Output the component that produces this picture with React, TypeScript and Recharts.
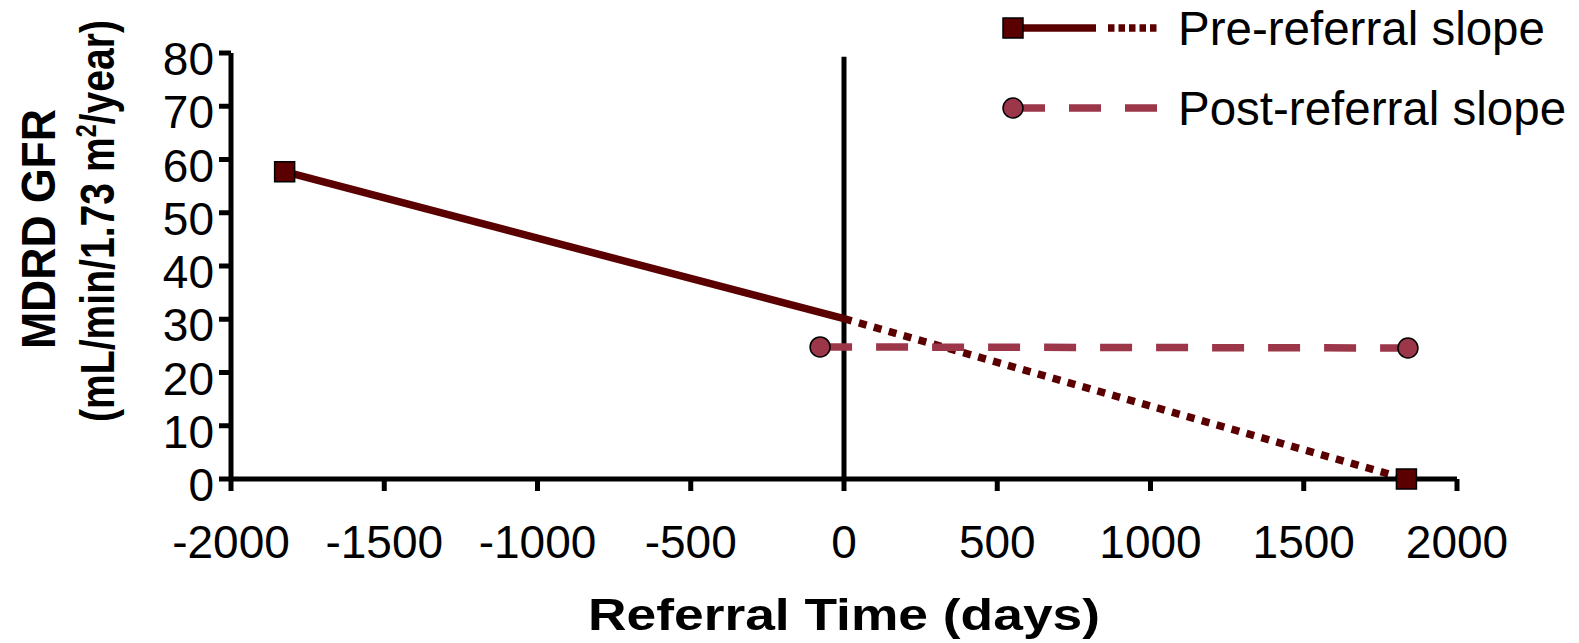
import { LineChart, Line, XAxis, YAxis, ReferenceLine, Legend } from "recharts";

// GFR slope endpoints (days relative to referral, mL/min/1.73 m²)
const preBefore = [
  { days: -1825, gfr: 57.7 },
  { days: 0, gfr: 30.1 },
];
const preAfter = [
  { days: 0, gfr: 30.1 },
  { days: 1835, gfr: 0 },
];
const postSlope = [
  { days: -78, gfr: 24.8 },
  { days: 1840, gfr: 24.6 },
];

const xTicks = [-2000, -1500, -1000, -500, 0, 500, 1000, 1500, 2000];
const yTicks = [0, 10, 20, 30, 40, 50, 60, 70, 80];
const seriesNames = ["Pre-referral slope", "Post-referral slope"];

const PRE = "#5a0000";
const POST = "#9c3649";
const FONT = "'Liberation Sans', Arial, Helvetica, sans-serif";

function Square({ cx, cy }: { cx: number; cy: number }) {
  return <rect x={cx - 10} y={cy - 10} width={20} height={20} fill={PRE} stroke="#000" strokeWidth={1.5} strokeDasharray="none" />;
}

function Dot({ cx, cy }: { cx: number; cy: number }) {
  return <circle cx={cx} cy={cy} r={10} fill={POST} stroke="#000" strokeWidth={1.5} strokeDasharray="none" />;
}

// squares only sit on the outer ends of the pre-referral line
const squareAt = (which: number) => (p: any) =>
  p.index === which ? <Square key={p.key ?? p.index} cx={p.cx} cy={p.cy} /> : <g key={p.key ?? p.index} />;

const circleDot = (p: any) => <Dot key={p.key ?? p.index} cx={p.cx} cy={p.cy} />;

function YTick({ x, y, payload }: any) {
  return (
    <text x={x} y={y + 22} textAnchor="end" fontSize={46} fontFamily={FONT} fill="#000">
      {payload.value}
    </text>
  );
}

function XTick({ x, y, payload }: any) {
  return (
    <text x={x} y={y + 59} textAnchor="middle" fontSize={46} fontFamily={FONT} fill="#000">
      {payload.value}
    </text>
  );
}

function XTitle({ viewBox }: any) {
  const cx = viewBox.x + viewBox.width / 2;
  return (
    <text x={cx} y={viewBox.y + 151} textAnchor="middle" fontSize={45} fontWeight="bold"
      fontFamily={FONT} fill="#000" textLength={512} lengthAdjust="spacingAndGlyphs">
      Referral Time (days)
    </text>
  );
}

function YTitle({ viewBox }: any) {
  const x1 = viewBox.x - 76;
  const x2 = viewBox.x - 17;
  const cy = viewBox.y + 168;
  return (
    <g fontFamily={FONT} fontWeight="bold" fill="#000">
      <text x={x1} y={cy + 8} transform={`rotate(-90, ${x1}, ${cy + 8})`} textAnchor="middle"
        fontSize={49} textLength={240} lengthAdjust="spacingAndGlyphs">
        MDRD GFR
      </text>
      <text x={x2} y={cy} transform={`rotate(-90, ${x2}, ${cy})`} textAnchor="middle"
        fontSize={49} textLength={402} lengthAdjust="spacingAndGlyphs">
        (mL/min/1.73 m<tspan fontSize={29} dy={-18}>2</tspan><tspan dy={18}>/year)</tspan>
      </text>
    </g>
  );
}

function SlopeLegend() {
  return (
    <svg width={600} height={150} style={{ display: "block" }} fontFamily={FONT}>
      <line x1={33} y1={28} x2={116} y2={28} stroke={PRE} strokeWidth={7.5} />
      <line x1={128} y1={28} x2={178} y2={28} stroke={PRE} strokeWidth={7.5} strokeDasharray="6.5 4" />
      <Square cx={33} cy={28} />
      <text x={198} y={45} fontSize={47.5} fill="#000">{seriesNames[0]}</text>

      <line x1={33} y1={108} x2={177} y2={108} stroke={POST} strokeWidth={7.5} strokeDasharray="32 24" />
      <Dot cx={33} cy={108} />
      <text x={198} y={125} fontSize={47.5} fill="#000">{seriesNames[1]}</text>
    </svg>
  );
}

export default function App() {
  return (
    <div style={{ position: "absolute", left: 0, top: 0, background: "#fff" }}>
      <LineChart width={1579} height={643} margin={{ top: 53, right: 122, bottom: 104, left: 131 }}>
        <XAxis
          type="number"
          dataKey="days"
          domain={[-2000, 2000]}
          ticks={xTicks}
          allowDataOverflow
          height={60}
          axisLine={{ stroke: "#000", strokeWidth: 5 }}
          tickLine={{ stroke: "#000", strokeWidth: 5 }}
          tickSize={12}
          tickMargin={8}
          tick={<XTick />}
          label={XTitle}
        />
        <YAxis
          type="number"
          domain={[0, 80]}
          ticks={yTicks}
          width={100}
          axisLine={{ stroke: "#000", strokeWidth: 5 }}
          tickLine={{ stroke: "#000", strokeWidth: 5 }}
          tickSize={12}
          tickMargin={5}
          tick={<YTick />}
          label={YTitle}
        />
        <ReferenceLine
          segment={[{ x: 0, y: 0 }, { x: 0, y: 79.3 }]}
          stroke="#000"
          strokeWidth={5}
        />
        <Legend
          layout="vertical"
          align="center"
          verticalAlign="middle"
          content={() => <SlopeLegend />}
          wrapperStyle={{ position: "absolute", left: 980, top: 0, width: 600, height: 150 }}
        />
        <Line
          data={preBefore}
          dataKey="gfr"
          name={seriesNames[0]}
          stroke={PRE}
          strokeWidth={7.5}
          dot={squareAt(0)}
          activeDot={false}
          legendType="none"
          isAnimationActive={false}
        />
        <Line
          data={preAfter}
          dataKey="gfr"
          name={seriesNames[0] + " (projected)"}
          stroke={PRE}
          strokeWidth={7.5}
          strokeDasharray="8 7.5"
          dot={squareAt(1)}
          activeDot={false}
          legendType="none"
          isAnimationActive={false}
        />
        <Line
          data={postSlope}
          dataKey="gfr"
          name={seriesNames[1]}
          stroke={POST}
          strokeWidth={7.5}
          strokeDasharray="32 24"
          dot={circleDot}
          activeDot={false}
          isAnimationActive={false}
        />
      </LineChart>
    </div>
  );
}
